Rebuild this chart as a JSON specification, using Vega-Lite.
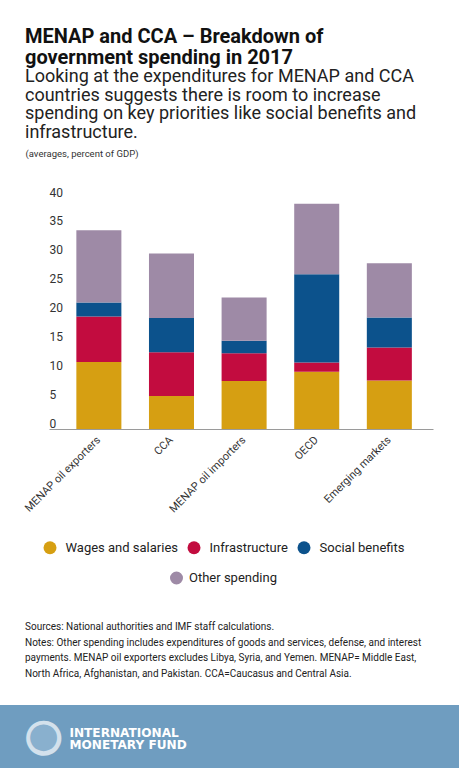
{
  "$schema": "https://vega.github.io/schema/vega-lite/v6.json",
  "padding": {"left": 0, "right": 0, "top": 27, "bottom": 0},
  "autosize": {"type": "pad"},
  "background": "white",
  "spacing": 106,
  "config": {"font": "Roboto", "view": {"stroke": null}},
  "vconcat": [
    {
      "width": 459,
      "height": 231,
      "title": {
        "text": ["MENAP and CCA – Breakdown of", "government spending in 2017"],
        "subtitle": ["Looking at the expenditures for MENAP and CCA", "countries suggests there is room to increase", "spending on key priorities like social benefits and", "infrastructure."],
        "anchor": "start",
        "frame": "group",
        "dx": 25,
        "fontSize": 20,
        "fontWeight": "bold",
        "lineHeight": 21,
        "color": "#111111",
        "subtitleFontSize": 18,
        "subtitleColor": "#222222",
        "subtitleLineHeight": 18.6,
        "subtitlePadding": 0,
        "subtitleFont": "Roboto",
        "font": "Roboto",
        "offset": 6
      },
      "data": {
        "values": [
          {"group": "MENAP oil exporters", "component": "Wages and salaries", "rank": 1, "value": 11.6},
          {"group": "MENAP oil exporters", "component": "Infrastructure", "rank": 2, "value": 7.9},
          {"group": "MENAP oil exporters", "component": "Social benefits", "rank": 3, "value": 2.4},
          {"group": "MENAP oil exporters", "component": "Other spending", "rank": 4, "value": 12.5},
          {"group": "CCA", "component": "Wages and salaries", "rank": 1, "value": 5.7},
          {"group": "CCA", "component": "Infrastructure", "rank": 2, "value": 7.6},
          {"group": "CCA", "component": "Social benefits", "rank": 3, "value": 5.9},
          {"group": "CCA", "component": "Other spending", "rank": 4, "value": 11.2},
          {"group": "MENAP oil importers", "component": "Wages and salaries", "rank": 1, "value": 8.3},
          {"group": "MENAP oil importers", "component": "Infrastructure", "rank": 2, "value": 4.8},
          {"group": "MENAP oil importers", "component": "Social benefits", "rank": 3, "value": 2.2},
          {"group": "MENAP oil importers", "component": "Other spending", "rank": 4, "value": 7.45},
          {"group": "OECD", "component": "Wages and salaries", "rank": 1, "value": 9.9},
          {"group": "OECD", "component": "Infrastructure", "rank": 2, "value": 1.6},
          {"group": "OECD", "component": "Social benefits", "rank": 3, "value": 15.3},
          {"group": "OECD", "component": "Other spending", "rank": 4, "value": 12.2},
          {"group": "Emerging markets", "component": "Wages and salaries", "rank": 1, "value": 8.4},
          {"group": "Emerging markets", "component": "Infrastructure", "rank": 2, "value": 5.7},
          {"group": "Emerging markets", "component": "Social benefits", "rank": 3, "value": 5.2},
          {"group": "Emerging markets", "component": "Other spending", "rank": 4, "value": 9.4}
        ]
      },
      "mark": {"type": "bar", "strokeWidth": 0},
      "encoding": {
        "x": {
          "field": "group",
          "type": "nominal",
          "sort": null,
          "scale": {"range": [49, 433], "paddingInner": 0.38, "paddingOuter": 0.334, "align": 0.564},
          "axis": {
            "title": null,
            "labelAngle": -45,
            "labelAlign": "right",
            "labelBaseline": "middle",
            "labelFontSize": 11,
            "labelColor": "#333333",
            "ticks": false,
            "domainColor": "#9a9a9a",
            "labelPadding": 9,
            "labelLimit": 200
          }
        },
        "y": {
          "field": "value",
          "type": "quantitative",
          "stack": "zero",
          "scale": {"domain": [0, 40]},
          "axis": {
            "values": [0, 5, 10, 15, 20, 25, 30, 35, 40],
            "grid": false,
            "domain": false,
            "ticks": false,
            "tickSize": 0,
            "labelAlign": "left",
            "labelPadding": 0,
            "labelFlush": false,
            "labelOverlap": false,
            "offset": -49,
            "labelFontSize": 12,
            "labelColor": "#333333",
            "labelOffset": -6,
            "title": "(averages, percent of GDP)",
            "titleAngle": 0,
            "titleAlign": "left",
            "titleBaseline": "alphabetic",
            "titleX": -24,
            "titleY": -42,
            "titleFontSize": 9.5,
            "titleFontWeight": "normal",
            "titleColor": "#333333"
          }
        },
        "order": {"field": "rank", "type": "quantitative", "sort": "ascending"},
        "color": {
          "field": "component",
          "type": "nominal",
          "sort": ["Wages and salaries", "Infrastructure", "Social benefits", "Other spending"],
          "scale": {
            "domain": ["Wages and salaries", "Infrastructure", "Social benefits", "Other spending"],
            "range": ["#d69f12", "#c20c3f", "#0c528c", "#9e8aa6"]
          },
          "legend": {
            "values": ["Wages and salaries", "Infrastructure", "Social benefits"],
            "orient": "none",
            "legendX": 43.5,
            "legendY": 343,
            "direction": "horizontal",
            "title": null,
            "symbolType": "circle",
            "symbolSize": 169,
            "symbolStrokeWidth": 0,
            "labelFontSize": 13,
            "labelColor": "#222222",
            "labelOffset": 9,
            "columnPadding": 9,
            "padding": 0
          }
        },
        "stroke": {
          "field": "component",
          "type": "nominal",
          "scale": {"domain": ["Other spending"], "range": ["#9e8aa6"]},
          "legend": {
            "orient": "none",
            "legendX": 170,
            "legendY": 373.5,
            "direction": "horizontal",
            "title": null,
            "symbolType": "circle",
            "symbolSize": 42,
            "symbolStrokeWidth": 6.5,
            "symbolFillColor": "#9e8aa6",
            "labelFontSize": 13,
            "labelColor": "#222222",
            "labelOffset": 6,
            "padding": 0
          }
        }
      }
    },
    {
      "width": 459,
      "height": 66,
      "view": {"fill": "#6f9dc0", "stroke": null},
      "title": {
        "text": ["Sources: National authorities and IMF staff calculations.", "Notes: Other spending includes expenditures of goods and services, defense, and interest", "payments. MENAP oil exporters excludes Libya, Syria, and Yemen. MENAP= Middle East,", "North Africa, Afghanistan, and Pakistan. CCA=Caucasus and Central Asia."],
        "anchor": "start",
        "frame": "group",
        "dx": 25,
        "fontSize": 10,
        "fontWeight": "normal",
        "font": "Roboto",
        "color": "#222222",
        "lineHeight": 15.7,
        "offset": 26
      },
      "layer": [
        {
          "data": {"values": [{"emblem": "IMF seal"}]},
          "mark": {"type": "text", "text": "●", "align": "center", "baseline": "middle", "dx": -186, "dy": -2, "font": "DejaVu Sans", "fontSize": 46, "color": "#d3e1ec"},
          "encoding": {}
        },
        {
          "data": {"values": [{"emblem": "IMF seal"}]},
          "mark": {"type": "text", "text": "●", "align": "center", "baseline": "middle", "dx": -186, "dy": -2, "font": "DejaVu Sans", "fontSize": 35, "color": "#89b0ce"},
          "encoding": {}
        },
        {
          "data": {"values": [{"org": "INTERNATIONAL\nMONETARY FUND"}]},
          "mark": {"type": "text", "align": "left", "baseline": "middle", "lineBreak": "\n", "lineHeight": 12.4, "dx": -160, "dy": -5, "font": "DejaVu Sans", "fontWeight": "bold", "fontSize": 12.1, "color": "white"},
          "encoding": {
            "text": {"field": "org"}
          }
        }
      ]
    }
  ]
}
